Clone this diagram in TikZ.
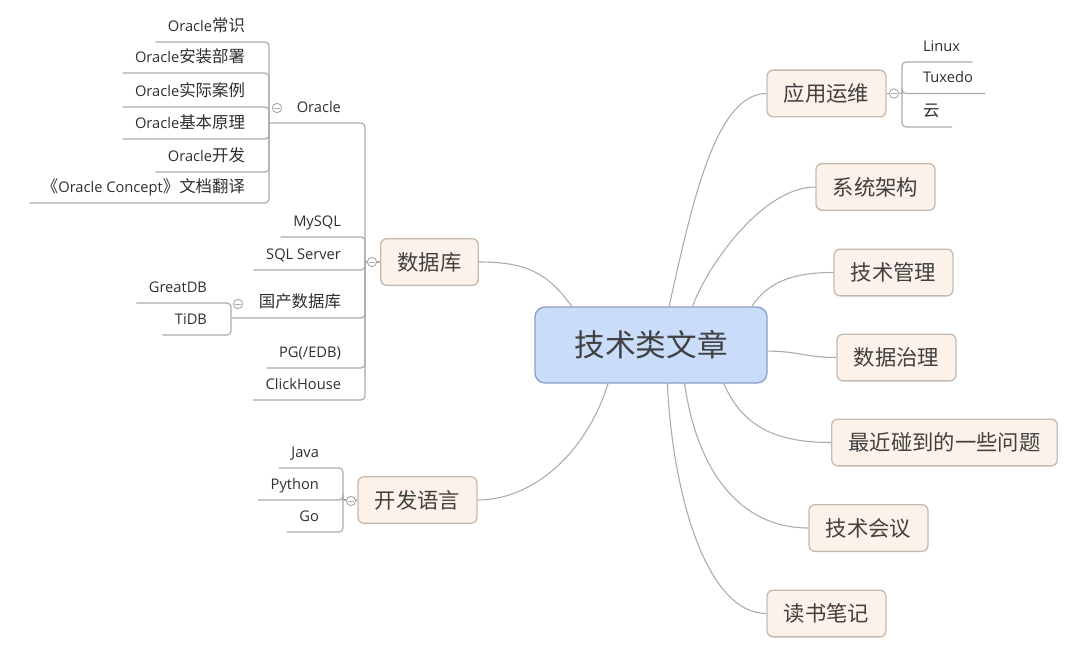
\documentclass[tikz,border=0pt]{standalone}
\usepackage{fontspec}
\setmainfont{Open Sans}
\newfontfamily\cjk{Noto Sans CJK SC}
\newfontfamily\cjkl[Scale=1.12]{Noto Sans CJK SC}
\usetikzlibrary{calc}
\definecolor{topicfill}{HTML}{FDF2E9}
\definecolor{topicdraw}{HTML}{C6BAB0}
\definecolor{centerfill}{HTML}{C9DCFA}
\definecolor{centerdraw}{HTML}{8C9FC4}
\definecolor{linec}{HTML}{ABABAB}
\definecolor{leaftext}{HTML}{2E2E2E}
\definecolor{topictext}{HTML}{404040}
\begin{document}
\begin{tikzpicture}[x=0.75pt,y=-0.75pt,
  centerbox/.style={draw=centerdraw, line width=1pt, fill=centerfill, rounded corners=7.5pt,
    minimum width=174pt, minimum height=57pt, inner sep=0pt,
    font=\cjk\fontsize{23}{27}\selectfont, text=topictext},
  topic/.style={draw=topicdraw, line width=1pt, fill=topicfill, rounded corners=4.5pt,
    minimum height=35pt, inner xsep=12.6pt, inner ysep=0pt,
    font=\cjk\fontsize{16}{19}\selectfont, text=topictext},
  leafbase/.style={inner sep=0pt, outer ysep=7.9pt, outer xsep=9.4pt, text depth=0pt,
    font=\fontsize{11}{13}\selectfont, text=leaftext},
  leafL/.style={leafbase, anchor=south east},
  leafR/.style={leafbase, anchor=south west},
  conn/.style={draw=linec, line width=0.8pt},
  branch/.style={draw=linec, line width=0.9pt, rounded corners=3pt},
  fold/.style={circle, draw=linec, fill=white, line width=0.7pt, minimum size=7pt, inner sep=0pt,
    path picture={\draw[linec, line width=0.6pt] ([xshift=-2pt]path picture bounding box.center) -- ([xshift=2pt]path picture bounding box.center);}},
]
\useasboundingbox (0,0) rectangle (1080,659);

% central topic
\node[centerbox] (c) at (651,345) {技术类文章};

% main topics
\node[topic] (ops)   at (826.5,93.5)  {应用运维};
\node[topic] (arch)  at (875.5,187)   {系统架构};
\node[topic] (mgmt)  at (893.5,272.5) {技术管理};
\node[topic] (gov)   at (896.5,357.5) {数据治理};
\node[topic] (issue) at (944.5,442.5) {最近碰到的一些问题};
\node[topic] (conf)  at (868.5,528)   {技术会议};
\node[topic] (read)  at (826.5,613.5) {读书笔记};
\node[topic] (db)    at (429.5,262)   {数据库};
\node[topic] (dev)   at (417.5,500)   {开发语言};

% connectors from the centre
\draw[conn] (c.154.3) .. controls ($(c.154.3)+(-25,-35)$) and ($(db.east)+(45,0)$) .. (db.east);
\draw[conn] (c.-138.5) .. controls ($(c.-138.5)+(-22,70)$) and ($(dev.east)+(55,0)$) .. (dev.east);
\draw[conn] (c.65.9) .. controls ($(c.65.9)+(22,-97)$) and ($(ops.west)+(-52,0)$) .. (ops.west);
\draw[conn] (c.43.5) .. controls ($(c.43.5)+(17,-45)$) and ($(arch.west)+(-51,0)$) .. (arch.west);
\draw[conn] (c.21.6) .. controls ($(c.21.6)+(15,-22)$) and ($(mgmt.west)+(-45,0)$) .. (mgmt.west);
\draw[conn] (c.-3.9) .. controls ($(c.-3.9)+(30,0)$) and ($(gov.west)+(-30,0)$) .. (gov.west);
\draw[conn] (c.-28.8) .. controls ($(c.-28.8)+(18,40)$) and ($(issue.west)+(-60,0)$) .. (issue.west);
\draw[conn] (c.-49.9) .. controls ($(c.-49.9)+(12,85)$) and ($(conf.west)+(-70,0)$) .. (conf.west);
\draw[conn] (c.-67.2) .. controls ($(c.-67.2)+(5,110)$) and ($(read.west)+(-60,0)$) .. (read.west);

% junction points
\coordinate (dbJ)  at (365,262);
\coordinate (oraJ) at (269,123);
\coordinate (gJ)   at (231,318);
\coordinate (devJ) at (343,500);
\coordinate (opsJ) at (902,93.5);

% 数据库 children
\node[leafL] (ora)  at (353.5,123) {Oracle};
\node[leafL] (mysql) at (353.5,237) {MySQL};
\node[leafL] (sqls) at (353.5,270) {SQL Server};
\node[leafL] (gc)   at (353.5,318) {\cjkl 国产数据库};
\node[leafL] (pg)   at (353.5,368) {PG(/EDB)};
\node[leafL] (ch)   at (353.5,400) {ClickHouse};
\draw[branch] (dbJ) |- (oraJ);
\draw[branch] (dbJ) |- (mysql.south west);
\draw[branch] (dbJ) |- (sqls.south west);
\draw[branch] (dbJ) |- (gJ);
\draw[branch] (dbJ) |- (pg.south west);
\draw[branch] (dbJ) |- (ch.south west);
\draw[conn] (dbJ) -- (db.west);

% Oracle children
\node[leafL] (o1) at (257.5,42)  {Oracle{\cjkl 常识}};
\node[leafL] (o2) at (257.5,73)  {Oracle{\cjkl 安装部署}};
\node[leafL] (o3) at (257.5,107) {Oracle{\cjkl 实际案例}};
\node[leafL] (o4) at (257.5,139) {Oracle{\cjkl 基本原理}};
\node[leafL] (o5) at (257.5,172) {Oracle{\cjkl 开发}};
\node[leafL] (o6) at (257.5,203) {{\cjkl 《}Oracle Concept{\cjkl 》文档翻译}};
\foreach \n in {o1,o2,o3,o4,o5,o6} \draw[branch] (oraJ) |- (\n.south west);

% 国产数据库 children
\node[leafL] (gdb)  at (219.5,303) {GreatDB};
\node[leafL] (tidb) at (219.5,335) {TiDB};
\draw[branch] (gJ) |- (gdb.south west);
\draw[branch] (gJ) |- (tidb.south west);

% 开发语言 children
\node[leafL] (java) at (331.5,468) {Java};
\node[leafL] (py)   at (331.5,500) {Python};
\node[leafL] (go)   at (331.5,532) {Go};
\draw[branch] (devJ) |- (java.south west);
\draw[branch] (devJ) |- (py.south west);
\draw[branch] (devJ) |- (go.south west);
\draw[conn] (devJ) -- (dev.west);

% 应用运维 children
\node[leafR] (linux)  at (910.5,62)   {Linux};
\node[leafR] (tuxedo) at (910.5,93.5) {Tuxedo};
\node[leafR] (cloud)  at (910.5,127)  {\cjkl 云};
\draw[branch] (opsJ) |- (linux.south east);
\draw[branch] (opsJ) |- (tuxedo.south east);
\draw[branch] (opsJ) |- (cloud.south east);
\draw[conn] (opsJ) -- (ops.east);

% fold markers
\node[fold] (dbF)  at (372,262) {};
\node[fold] (oraF) at (277,108) {};
\node[fold] (gF)   at (238,304) {};
\node[fold] (devF) at (351,501) {};
\node[fold] (opsF) at (894,93.5) {};
\end{tikzpicture}
\end{document}
